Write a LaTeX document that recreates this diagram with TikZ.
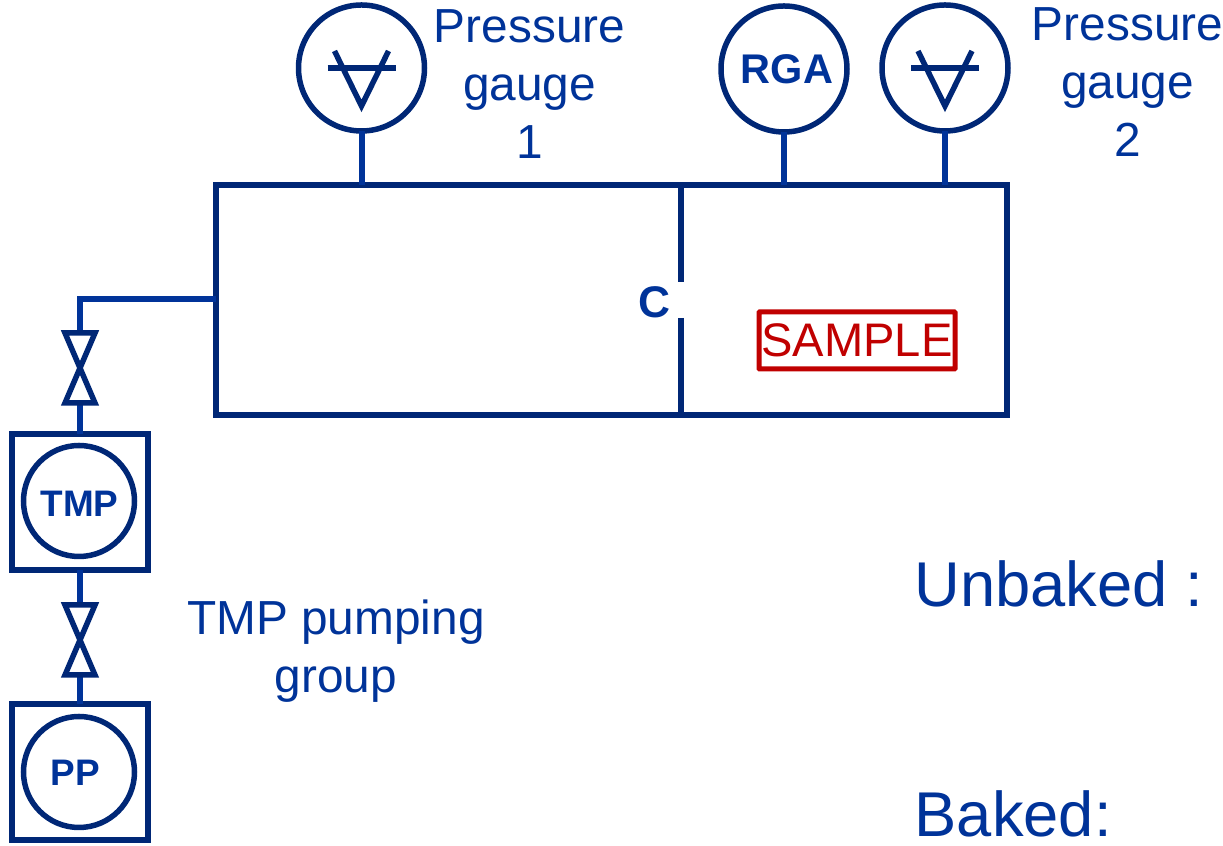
\documentclass[tikz,border=0pt]{standalone}
\usepackage{fontspec}
\setmainfont{Liberation Sans}
\definecolor{darkblue}{RGB}{0,39,118}
\definecolor{pipeblue}{RGB}{0,51,153}
\definecolor{samplered}{RGB}{192,0,0}
\tikzset{
  vessel/.style={draw=darkblue,line width=0.06cm,inner sep=0pt,outer sep=0pt},
  dial/.style={circle,draw=darkblue,line width=0.055cm,inner sep=0pt,outer sep=0pt,minimum size=1.26cm},
  dialtext/.style={text=pipeblue,inner sep=0pt,font=\bfseries\fontsize{11.8}{14}\selectfont},
  pumptext/.style={text=pipeblue,inner sep=0pt,font=\bfseries\fontsize{10.5}{13}\selectfont},
  pipe/.style={draw=pipeblue,line width=0.06cm},
  valve/.style={inner sep=0pt,outer sep=0pt,minimum width=0.30cm,minimum height=0.70cm},
  label/.style={text=pipeblue,align=center,inner sep=0pt,font=\fontsize{13.6}{16.5}\selectfont},
  biglabel/.style={text=pipeblue,anchor=base west,inner sep=0pt,font=\fontsize{18}{21}\selectfont}
}
\begin{document}
\begin{tikzpicture}
\useasboundingbox (0,0) rectangle (12.23,8.46);

\node[vessel,minimum width=7.91cm,minimum height=2.30cm] (chamber) at (6.115,5.46) {};
\coordinate (divtop) at (6.81,6.61);
\coordinate (divbot) at (6.81,4.31);
\coordinate (gaptop) at (6.81,5.64);
\coordinate (gapbot) at (6.81,5.28);
\draw[vessel] (divtop)--(gaptop);
\draw[vessel] (gapbot)--(divbot);
\node[text=pipeblue,inner sep=0pt,font=\bfseries\fontsize{12.6}{15}\selectfont] (clabel) at (6.54,5.44) {C};

\node[dial] (gauge1) at (3.615,7.78) {};
\node[dial] (rga) at (7.84,7.77) {};
\node[dialtext] (rgatext) at (7.87,7.77) {RGA};
\node[dial] (gauge2) at (9.45,7.78) {};
\foreach \g in {gauge1,rga,gauge2}
  \draw[pipe] (\g) -- (\g |- chamber.north);
\foreach \g in {gauge1,gauge2}{
  \draw[darkblue,line width=0.055cm,shift={(\g)}] (-0.34,0)--(0.34,0);
  \draw[darkblue,line width=0.055cm,shift={(\g)}] (-0.27,0.17)--(0,-0.38)--(0.27,0.17);
}

\node[label] (p1) at (5.295,7.62) {Pressure\\gauge\\1};
\node[label] (p2) at (11.275,7.64) {Pressure\\gauge\\2};

\node[draw=samplered,line width=0.05cm,inner sep=0pt,outer sep=0pt,minimum width=1.96cm,minimum height=0.57cm,rounded corners=0.2pt,text=samplered,font=\fontsize{13.4}{16}\selectfont] (sample) at (8.57,5.055) {SAMPLE};

\node[vessel,minimum size=1.36cm] (tmpbox) at (0.80,3.44) {};
\node[dial,minimum size=1.11cm] (tmp) at (0.79,3.45) {};
\node[pumptext] (tmptext) at (0.795,3.42) {TMP};
\node[vessel,minimum size=1.36cm] (ppbox) at (0.80,0.74) {};
\node[dial,minimum size=1.11cm] (pp) at (0.79,0.74) {};
\node[pumptext] (pptext) at (0.755,0.73) {PP};

\node[valve] (valve1) at (0.80,4.78) {};
\node[valve] (valve2) at (0.80,2.06) {};
\coordinate (elbow) at (0.80,5.47);
\draw[pipe] (chamber.west |- elbow) -- (elbow) -- (valve1.north);
\draw[pipe] (valve1.south) -- (tmpbox.north);
\draw[pipe] (tmpbox.south) -- (valve2.north);
\draw[pipe] (valve2.south) -- (ppbox.north);
\foreach \v in {valve1,valve2}
  \draw[darkblue,line width=0.055cm,miter limit=2] (\v.north west)--(\v.north east)--(\v.south west)--(\v.south east)--cycle;

\node[label] (tmpgroup) at (3.36,1.945) {TMP pumping\\group};
\node[biglabel] (unbaked) at (9.14,2.39) {Unbaked :};
\node[biglabel] (baked) at (9.14,0.09) {Baked:};
\end{tikzpicture}
\end{document}
